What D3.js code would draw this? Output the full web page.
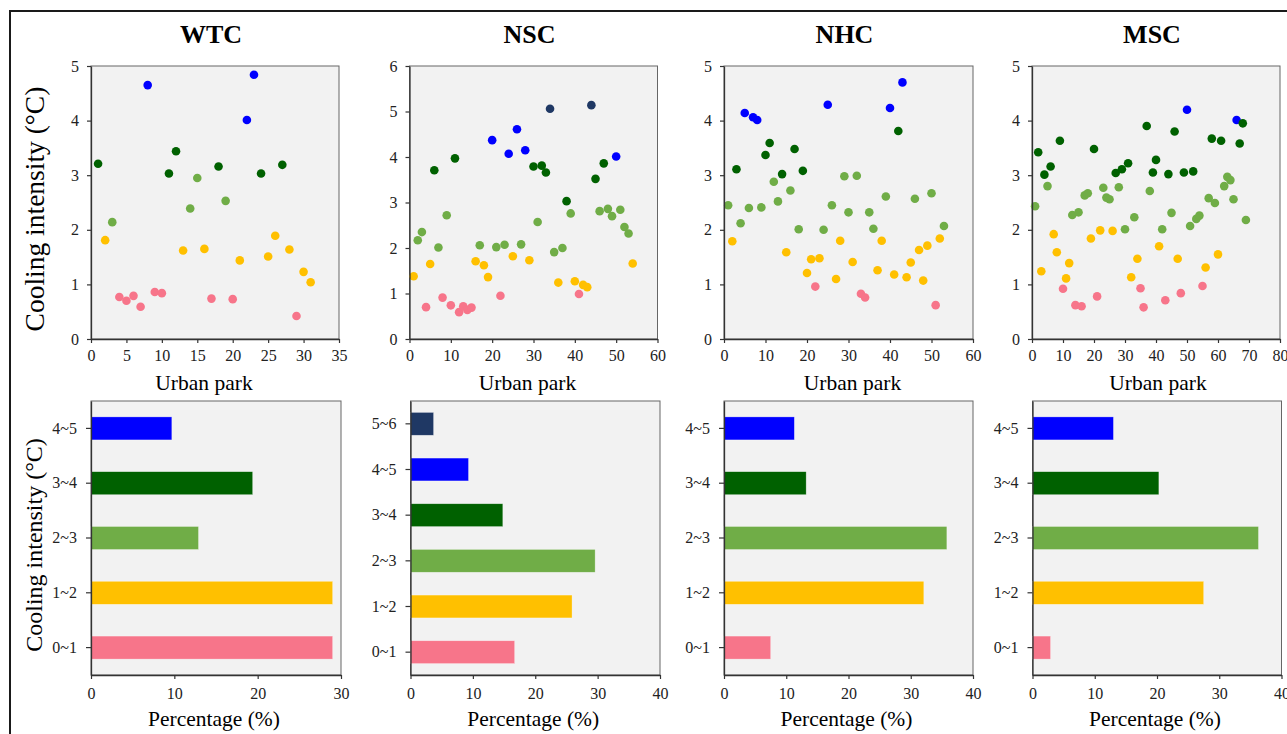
<!DOCTYPE html>
<html>
<head>
<meta charset="utf-8">
<script src="https://cdn.jsdelivr.net/npm/d3@7"></script>
<style>
  body { margin: 0; background: #fff; }
  svg { display: block; font-family: "Liberation Serif", "Times New Roman", serif; }
  .tick text { fill: #222; font-family: "Liberation Serif", "Times New Roman", serif; }
</style>
</head>
<body>
<svg width="1287" height="734"></svg>
<script>
// panel names
const panelNames = ["WTC", "NSC", "NHC", "MSC"];

// cooling intensity of each urban park (x = park number 1..n)
const wtcCooling = [3.21, 1.81, 2.14, 0.77, 0.70, 0.79, 0.59, 4.65, 0.86, 0.84,
  3.03, 3.44, 1.62, 2.39, 2.95, 1.65, 0.74, 3.16, 2.53, 0.73,
  1.44, 4.01, 4.84, 3.03, 1.51, 1.89, 3.19, 1.64, 0.42, 1.23, 1.04];
const nscCooling = [1.38, 2.17, 2.35, 0.70, 1.65, 3.71, 2.01, 0.91, 2.72, 0.74,
  3.97, 0.59, 0.72, 0.64, 0.69, 1.71, 2.06, 1.62, 1.36, 4.37,
  2.02, 0.95, 2.07, 4.07, 1.82, 4.61, 2.08, 4.15, 1.73, 3.79,
  2.57, 3.81, 3.66, 5.06, 1.91, 1.24, 2.00, 3.03, 2.76, 1.27,
  0.99, 1.19, 1.14, 5.14, 3.52, 2.81, 3.86, 2.86, 2.70, 4.01,
  2.84, 2.46, 2.32, 1.66];
const nhcCooling = [2.45, 1.79, 3.11, 2.12, 4.14, 2.40, 4.06, 4.01, 2.41, 3.37,
  3.59, 2.88, 2.52, 3.02, 1.59, 2.72, 3.48, 2.01, 3.08, 1.21,
  1.46, 0.96, 1.48, 2.00, 4.29, 2.45, 1.10, 1.80, 2.98, 2.32,
  1.41, 2.99, 0.83, 0.76, 2.32, 2.02, 1.26, 1.80, 2.61, 4.23,
  1.18, 3.81, 4.70, 1.13, 1.40, 2.57, 1.63, 1.07, 1.71, 2.67,
  0.62, 1.84, 2.07];
const mscCooling = [2.43, 3.42, 1.24, 3.01, 2.80, 3.16, 1.92, 1.59, 3.63, 0.92,
  1.11, 1.39, 2.27, 0.62, 2.32, 0.60, 2.63, 2.67, 1.84, 3.48,
  0.78, 1.99, 2.77, 2.59, 2.56, 1.98, 3.04, 2.78, 3.11, 2.01,
  3.22, 1.13, 2.23, 1.47, 0.93, 0.58, 3.90, 2.71, 3.05, 3.28,
  1.70, 2.01, 0.71, 3.02, 2.31, 3.80, 1.47, 0.84, 3.05, 4.20,
  2.07, 3.07, 2.20, 2.26, 0.97, 1.31, 2.58, 3.67, 2.49, 1.55,
  3.63, 2.80, 2.97, 2.91, 2.56, 4.01, 3.58, 3.95, 2.18];
// points whose class differs from floor(value): park number -> class
const nscClassFix = { 35: 2 };

// percentage of parks in each cooling class (0~1, 1~2, ...)
const wtcShare = [29.0, 29.0, 12.9, 19.4, 9.7];
const nscShare = [16.7, 25.9, 29.6, 14.8, 9.3, 3.7];
const nhcShare = [7.5, 32.1, 35.8, 13.2, 11.3];
const mscShare = [2.9, 27.5, 36.3, 20.3, 13.0];

const classLabels = ["0~1", "1~2", "2~3", "3~4", "4~5", "5~6"];
const classColors = ["#F7758A", "#FFC000", "#70AD47", "#006100", "#0000FF", "#1F3864"];

const parkMax = [35, 60, 60, 80];
const parkStep = [5, 10, 10, 10];
const coolMax = [5, 6, 5, 5];
const shareMax = [30, 40, 40, 40];

const coolingData = [wtcCooling, nscCooling, nhcCooling, mscCooling];
const shareData = [wtcShare, nscShare, nhcShare, mscShare];
const classFixes = [{}, nscClassFix, {}, {}];

// layout
const scatterBox = [[91, 339], [409.5, 657.5], [724, 973], [1032, 1280]];
const barBox = [[91, 341], [410.5, 660], [724, 973], [1032.5, 1281.5]];
const scatterTop = 66, scatterBottom = 339;
const barTop = 401, barBottom = 675;
const parkLabelX = [204, 527.5, 852.5, 1158];
const barPad = [0.58, 0.58, 0.5];

const svg = d3.select('svg');
const font = 16;
const serif = '"Liberation Serif", "Times New Roman", serif';

// outer frame
svg.append('rect')
  .attr('x', 10).attr('y', 11)
  .attr('width', 1400).attr('height', 800)
  .attr('fill', 'none').attr('stroke', '#1a1a1a').attr('stroke-width', 2);

function styleAxis(g) {
  g.attr('font-family', null).attr('font-size', null);
  g.select('.domain').attr('stroke', '#333').attr('stroke-width', 1.3);
  g.selectAll('.tick line').attr('stroke', '#333').attr('stroke-width', 1.2);
  g.selectAll('.tick text')
    .style('font-size', font + 'px')
    .style('font-family', serif);
}

panelNames.forEach((name, i) => {
  // ----- scatter -----
  const [sx0, sx1] = scatterBox[i];
  const x = d3.scaleLinear().domain([0, parkMax[i]]).range([sx0, sx1]);
  const y = d3.scaleLinear().domain([0, coolMax[i]]).range([scatterBottom, scatterTop]);

  svg.append('rect')
    .attr('x', sx0).attr('y', scatterTop)
    .attr('width', sx1 - sx0).attr('height', scatterBottom - scatterTop)
    .attr('fill', '#f2f2f2').attr('stroke', '#666').attr('stroke-width', 1);

  const points = coolingData[i].map((v, k) => {
    const park = k + 1;
    const cls = classFixes[i][park] !== undefined ? classFixes[i][park] : Math.floor(v);
    return { park, v, cls };
  });

  svg.append('g').selectAll('circle')
    .data(points)
    .enter().append('circle')
    .attr('cx', d => x(d.park))
    .attr('cy', d => y(d.v))
    .attr('r', 4.3)
    .attr('fill', d => classColors[d.cls]);

  svg.append('g')
    .attr('transform', `translate(0,${scatterBottom})`)
    .call(d3.axisBottom(x).tickValues(d3.range(0, parkMax[i] + 0.1, parkStep[i]))
      .tickSize(4).tickSizeOuter(0).tickPadding(7))
    .call(styleAxis);

  svg.append('g')
    .attr('transform', `translate(${sx0},0)`)
    .call(d3.axisLeft(y).ticks(coolMax[i]).tickSize(4).tickSizeOuter(0).tickPadding(8))
    .call(styleAxis);

  svg.append('text')
    .attr('x', (sx0 + sx1) / 2 - 4).attr('y', 43)
    .attr('text-anchor', 'middle')
    .attr('font-size', 26).attr('font-weight', 'bold')
    .text(name);

  svg.append('text')
    .attr('x', parkLabelX[i]).attr('y', 390)
    .attr('text-anchor', 'middle')
    .attr('font-size', 21.5)
    .text('Urban park');

  // ----- bars -----
  const [bx0, bx1] = barBox[i];
  const shares = shareData[i];
  const cats = classLabels.slice(0, shares.length);
  const pad = shares.length > 5 ? barPad[2] : barPad[0];
  const bx = d3.scaleLinear().domain([0, shareMax[i]]).range([bx0, bx1]);
  const by = d3.scaleBand().domain(cats).range([barBottom, barTop])
    .paddingInner(pad).paddingOuter(pad / 2);

  svg.append('rect')
    .attr('x', bx0).attr('y', barTop)
    .attr('width', bx1 - bx0).attr('height', barBottom - barTop)
    .attr('fill', '#f2f2f2').attr('stroke', '#666').attr('stroke-width', 1);

  svg.append('g').selectAll('rect')
    .data(shares)
    .enter().append('rect')
    .attr('x', bx(0))
    .attr('y', (d, k) => by(cats[k]))
    .attr('width', d => bx(d) - bx(0))
    .attr('height', by.bandwidth())
    .attr('fill', (d, k) => classColors[k])
    .attr('stroke', 'rgba(255,255,255,0.5)').attr('stroke-width', 0.6);

  svg.append('g')
    .attr('transform', `translate(0,${barBottom})`)
    .call(d3.axisBottom(bx).ticks(shareMax[i] / 10).tickSize(4).tickSizeOuter(0).tickPadding(9))
    .call(styleAxis);

  svg.append('g')
    .attr('transform', `translate(${bx0},0)`)
    .call(d3.axisLeft(by).tickSize(5).tickSizeOuter(0).tickPadding(9))
    .call(styleAxis);

  svg.append('text')
    .attr('x', (bx0 + bx1) / 2 - 2).attr('y', 726)
    .attr('text-anchor', 'middle')
    .attr('font-size', 21.5)
    .text('Percentage (%)');
});

// y axis titles
[[209, 27.5], [545, 24]].forEach(([cy, size]) => {
  svg.append('text')
    .attr('transform', `translate(34,${cy}) rotate(-90)`)
    .attr('text-anchor', 'middle')
    .attr('dominant-baseline', 'central')
    .attr('font-size', size)
    .text('Cooling intensity (°C)');
});
</script>
</body>
</html>
